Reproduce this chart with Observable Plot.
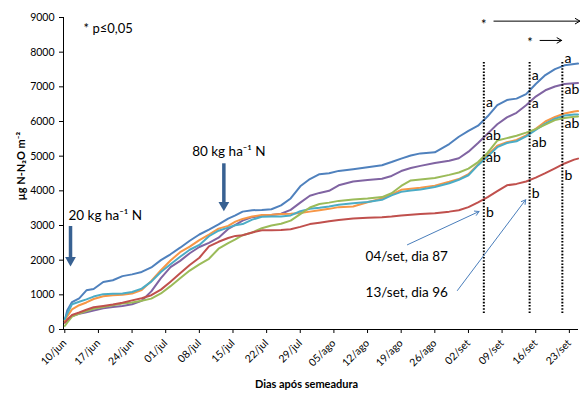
<!DOCTYPE html>
<html><head><meta charset="utf-8">
<script src="https://cdn.jsdelivr.net/npm/d3@7"></script>
<script src="https://cdn.jsdelivr.net/npm/@observablehq/plot@0.6"></script>
<style>
body{margin:0;background:#fff;}
#chart{width:580px;height:394px;}
</style></head><body><div id="chart"></div>
<script>
// days after 10/jun
const days = [0,0.5,1.5,3,4.5,6,8,10,12,14,16,18,20,22,24,26,28,30,32,34,35.5,37,39,41,43,45,47,49,51,53,55,57,60,63,66,68,70,72,74,77,80,82,84,86,88,90,92,94,96,98,100,102,104,106,106.8];

const seriesNames = ["T1","T2","T3","T4","T5","T6"];
const seriesColors = ["#4F81BD","#8064A2","#F79646","#4BACC6","#9BBB59","#C0504D"];

const blueVals = [260,550,790,900,1130,1170,1370,1420,1540,1590,1660,1790,2000,2170,2360,2560,2740,2880,3030,3200,3290,3400,3440,3450,3470,3580,3780,4130,4340,4480,4510,4575,4625,4680,4740,4830,4930,5020,5080,5110,5350,5560,5730,5880,6150,6470,6620,6660,6790,7080,7340,7510,7620,7660,7670];
const purpleVals = [200,280,390,450,500,550,610,650,680,730,830,1100,1480,1800,1980,2200,2380,2500,2650,2900,3020,3140,3240,3280,3300,3340,3450,3660,3860,3940,4000,4160,4270,4310,4350,4430,4570,4660,4720,4800,4870,4940,5130,5380,5650,5920,6120,6250,6470,6720,6900,7010,7080,7100,7110];
const orangeVals = [250,380,580,700,780,880,960,990,1005,1040,1140,1400,1710,1990,2230,2390,2580,2740,2910,2990,3110,3190,3260,3300,3310,3330,3340,3360,3400,3440,3480,3530,3550,3670,3780,3890,4030,4060,4090,4150,4260,4340,4480,4760,5040,5300,5400,5470,5600,5790,6000,6130,6230,6290,6300];
const cyanVals = [300,450,730,800,870,950,1020,1030,1040,1080,1180,1380,1660,1880,2100,2300,2440,2690,2850,2940,3010,3040,3170,3250,3260,3260,3290,3410,3480,3510,3550,3600,3640,3680,3740,3870,3970,4010,4040,4110,4220,4320,4450,4740,5000,5260,5380,5430,5570,5760,5940,6080,6170,6200,6205];
const greenVals = [100,200,370,460,530,600,650,700,750,780,830,890,1040,1250,1480,1700,1880,2040,2330,2490,2600,2720,2800,2920,3000,3050,3140,3330,3520,3620,3660,3710,3750,3780,3820,3930,4140,4300,4330,4370,4460,4530,4640,4830,5100,5450,5520,5590,5680,5780,5910,6040,6100,6140,6145];
const redVals = [200,280,420,490,570,640,680,720,770,840,900,990,1150,1380,1620,1860,2070,2400,2530,2640,2700,2720,2800,2860,2860,2870,2890,2960,3040,3080,3120,3160,3200,3220,3240,3260,3290,3310,3330,3350,3400,3440,3530,3670,3820,3990,4160,4200,4270,4380,4510,4650,4790,4900,4930];

const tickDays = [0,7,14,21,28,35,42,49,56,63,70,77,84,91,98,105];
const tickLabels = ["10/jun","17/jun","24/jun","01/jul","08/jul","15/jul","22/jul","29/jul","05/ago","12/ago","19/ago","26/ago","02/set","09/set","16/set","23/set"];
const yTicks = [0,1000,2000,3000,4000,5000,6000,7000,8000,9000];

// comparison dates (dotted lines) and letters
const cutDays = [87.2, 96.73, 103.54];
const lettersCol1 = ["a","ab","ab","b"];
const lettersCol2 = ["a","a","ab","b"];
const lettersCol3 = ["a","ab","ab","b"];
const lettersY1 = [6549,5597,4962,3375];
const lettersY2 = [7328,6520,5395,3924];
const lettersY3 = [7818,6924,5943,4443];

const seriesVals = [blueVals,purpleVals,orangeVals,cyanVals,greenVals,redVals];
const rows = [];
seriesVals.forEach((vals,k)=>vals.forEach((v,i)=>rows.push({day:days[i], value:v, s:seriesNames[k]})));

const letters = [];
[[lettersCol1,lettersY1],[lettersCol2,lettersY2],[lettersCol3,lettersY3]].forEach(([ls,ys],j)=>{
  ls.forEach((l,i)=>letters.push({day:cutDays[j]+0.45, value:ys[i], t:l}));
});

const fontFam = "Lato, 'Open Sans', sans-serif";
const plot = Plot.plot({
  width:580, height:394,
  marginTop:17, marginBottom:65, marginLeft:63, marginRight:2,
  style:{fontFamily:fontFam, fontSize:"10.5px", color:"#000", background:"#fff"},
  x:{domain:[-0.27,106.9]},
  y:{domain:[0,9000]},
  color:{domain:seriesNames, range:seriesColors},
  marks:[
    Plot.axisY(yTicks, {tickSize:4, tickPadding:5, label:null, stroke:"#000", fill:"#000", fontSize:10.5,
      tickFormat:d=>String(d)}),
    Plot.axisX(tickDays, {tickSize:4, tickRotate:-45, label:null, stroke:"#000", fill:"#000", fontSize:10.5,
      tickFormat:d=>tickLabels[tickDays.indexOf(d)]}),
    Plot.ruleX([-0.27], {stroke:"#000", strokeWidth:1}),
    Plot.ruleY([0], {stroke:"#000", strokeWidth:1}),
    Plot.line(rows, {x:"day", y:"value", z:"s", stroke:"s", strokeWidth:2, strokeLinejoin:"round"}),
    // dotted comparison lines
    Plot.ruleX(cutDays, {y1:462, y2:7703, stroke:"#000", strokeWidth:2, strokeDasharray:"1.6 1.6"}),
    Plot.text(letters, {x:"day", y:"value", text:"t", textAnchor:"start", fontSize:14, fill:"#000"}),
    // fertilisation arrows
    Plot.ruleX([1.19], {y1:2972, y2:2030, stroke:"#386192", strokeWidth:3.5}),
    Plot.dot([{x:1.19,y:2000}], {x:"x", y:"y", symbol:"triangle", rotate:180, r:4, fill:"#386192", stroke:"none"}),
    Plot.ruleX([33.1], {y1:4780, y2:3620, stroke:"#386192", strokeWidth:3.5}),
    Plot.dot([{x:33.1,y:3590}], {x:"x", y:"y", symbol:"triangle", rotate:180, r:4, fill:"#386192", stroke:"none"}),
    Plot.text(["20 kg ha\u207B\u00B9 N"], {x:0.77, y:3289, textAnchor:"start", fontSize:13.5, fill:"#000"}),
    Plot.text(["80 kg ha\u207B\u00B9 N"], {x:26.5, y:5135, textAnchor:"start", fontSize:13.5, fill:"#000"}),
    Plot.text(["* p\u22640,05"], {x:3.9, y:8684, textAnchor:"start", fontSize:13, fill:"#000"}),
    // date callouts
    Plot.text(["04/set, dia 87"], {x:62.6, y:2106, textAnchor:"start", fontSize:13.5, fill:"#000"}),
    Plot.text(["13/set, dia 96"], {x:62.6, y:1053, textAnchor:"start", fontSize:13.5, fill:"#000"}),
    Plot.arrow([{x1:71.3,y1:2444,x2:86.2,y2:3404},{x1:81.7,y1:1125,x2:95.9,y2:3742}],
      {x1:"x1",y1:"y1",x2:"x2",y2:"y2", stroke:"#4A7EBB", strokeWidth:1, headLength:7}),
    // significance stars and arrows
    Plot.text(["*","*"], {x:[87.2,96.8], y:[8790,8270], fontSize:13, fill:"#000"}),
    Plot.arrow([{x1:89.3,y1:8895,x2:107.2,y2:8895},{x1:98.9,y1:8338,x2:103.4,y2:8338}],
      {x1:"x1",y1:"y1",x2:"x2",y2:"y2", stroke:"#000", strokeWidth:1, headLength:8}),
    // axis titles
    Plot.text(["Dias após semeadura"], {frameAnchor:"bottom", dx:-14.5, dy:58, fontSize:11, fontWeight:"bold", fill:"#000"}),
    Plot.text(["\u00B5g N-N\u2082O m\u207B\u00B2"], {frameAnchor:"left", dx:-42, dy:27, rotate:-90, fontSize:11, fontWeight:"bold", fill:"#000"})
  ]
});
document.getElementById("chart").appendChild(plot);
</script></body></html>
